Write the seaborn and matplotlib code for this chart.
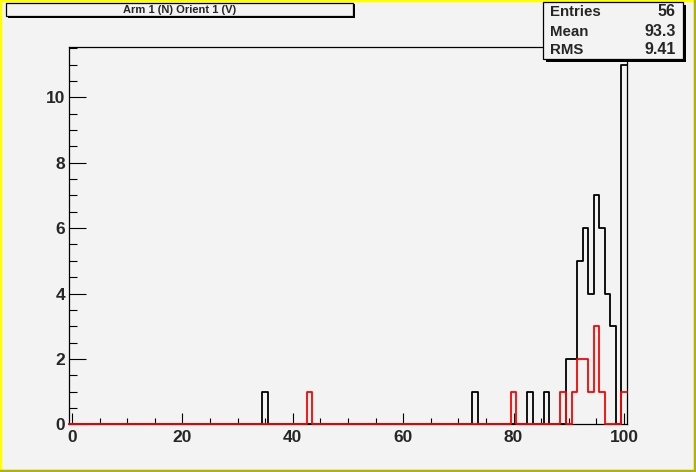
import numpy as np
import pandas as pd
import matplotlib
matplotlib.use("Agg")
import matplotlib.pyplot as plt
from matplotlib.patches import Rectangle
from matplotlib.lines import Line2D
import seaborn as sns

# ---- data (bin centres and counts) ----
black_x = [35, 73, 83, 86, 90, 91, 92, 93, 94, 95, 96, 97, 98, 100]
black_counts = [1, 1, 1, 1, 2, 2, 5, 6, 4, 7, 6, 4, 3, 11]
red_x = [43, 80, 89, 91, 92, 93, 94, 95, 96, 100]
red_counts = [1, 1, 1, 1, 2, 2, 1, 3, 1, 1]
bin_range = (-0.5, 100.5)

title_text = "Arm 1 (N) Orient 1 (V)"
stats_labels = ["Entries", "Mean", "RMS"]
stats_values = ["56", "93.3", "9.41"]
x_ticks = [0, 20, 40, 60, 80, 100]
y_ticks = [0, 2, 4, 6, 8, 10]

sns.set_style("ticks")
plt.rcParams["font.family"] = ["Liberation Sans", "DejaVu Sans"]

W, H = 696, 472
BG = "#f3f3f3"
fig = plt.figure(figsize=(W / 100, H / 100), dpi=100)
fig.patch.set_facecolor(BG)


def fx(px):
    return px / W


def fy(py):
    return 1 - py / H


ax = fig.add_axes([fx(69.3), fy(424.3), fx(626.7) - fx(69.3), fy(46.7) - fy(424.3)])
ax.set_facecolor(BG)

df_black = pd.DataFrame({"x": black_x, "w": black_counts})
df_red = pd.DataFrame({"x": red_x, "w": red_counts})

sns.histplot(data=df_black, x="x", weights="w", binwidth=1, binrange=bin_range,
             element="step", fill=False, color="black", linewidth=1.3, ax=ax, zorder=3)
sns.histplot(data=df_red, x="x", weights="w", binwidth=1, binrange=bin_range,
             element="step", fill=False, color="#ff0000", linewidth=1.3, ax=ax, zorder=4)
for ln in ax.lines:
    ln.set_clip_on(False)

ax.set_xlim(-0.5, 100.5)
ax.set_ylim(0, 11.55)
ax.set_xlabel("")
ax.set_ylabel("")
ax.set_xticks(x_ticks)
ax.set_xticks(np.arange(0, 101, 5), minor=True)
ax.set_yticks(y_ticks)
ax.set_yticks(np.arange(0, 11.51, 0.5), minor=True)
ax.set_xticklabels([str(v) for v in x_ticks], fontsize=12.5, fontweight="bold")
ax.set_yticklabels([str(v) for v in y_ticks], fontsize=12.5, fontweight="bold")
ax.tick_params(axis="x", which="major", direction="in", length=8.1, width=0.8, pad=4, color="black")
ax.tick_params(axis="x", which="minor", direction="in", length=4.0, width=0.8, color="black")
ax.tick_params(axis="y", which="major", direction="in", length=12, width=0.8, pad=3, color="black")
ax.tick_params(axis="y", which="minor", direction="in", length=6, width=0.8, color="black")
for s in ax.spines.values():
    s.set_visible(True)
    s.set_color("black")
    s.set_linewidth(0.9)
    s.set_zorder(2.5)

# ---- canvas border (raised) ----
bw = 2.5
fig.add_artist(Line2D([0, 1], [fy(bw / 2), fy(bw / 2)], transform=fig.transFigure,
                      color="#ffff00", linewidth=bw * 0.72))
fig.add_artist(Line2D([fx(bw / 2), fx(bw / 2)], [0, 1], transform=fig.transFigure,
                      color="#ffff00", linewidth=bw * 0.72))
fig.add_artist(Line2D([0, 1], [fy(H - bw / 2), fy(H - bw / 2)], transform=fig.transFigure,
                      color="#b2b200", linewidth=bw * 0.72))
fig.add_artist(Line2D([fx(W - bw / 2), fx(W - bw / 2)], [0, 1], transform=fig.transFigure,
                      color="#b2b200", linewidth=bw * 0.72))


def box(x0, y0, x1, y1, shadow=2.0, z=10):
    fig.add_artist(Rectangle((fx(x0 + shadow), fy(y1 + shadow)),
                             fx(x1 - x0), fy(y0) - fy(y1),
                             transform=fig.transFigure, facecolor="black",
                             edgecolor="none", zorder=z))
    fig.add_artist(Rectangle((fx(x0), fy(y1)), fx(x1 - x0), fy(y0) - fy(y1),
                             transform=fig.transFigure, facecolor=BG,
                             edgecolor="black", linewidth=0.9, zorder=z + 1))


# ---- title box ----
box(6, 2.7, 353.3, 16, shadow=1.5)
fig.text(fx(180), fy(12.9), title_text, ha="center", va="baseline",
         fontsize=8.0, fontweight="bold", zorder=20)

# ---- stats box ----
box(542.7, 1.7, 682.7, 59.3, shadow=3)
base_y = [15.7, 35.7, 54.0]
for lab, val, by in zip(stats_labels, stats_values, base_y):
    fig.text(fx(550), fy(by), lab, ha="left", va="baseline",
             fontsize=10.8, fontweight="bold", zorder=20)
    fig.text(fx(675.5), fy(by), val, ha="right", va="baseline",
             fontsize=11.5, fontweight="bold", zorder=20)

fig.savefig("out.png", dpi=100, facecolor=fig.get_facecolor())
